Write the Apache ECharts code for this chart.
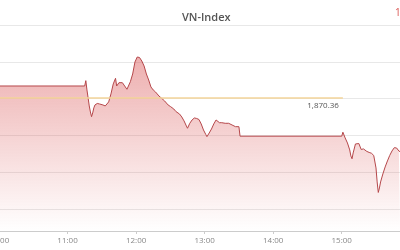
<!DOCTYPE html>
<html>
<head>
<meta charset="utf-8">
<script src="https://cdn.jsdelivr.net/npm/echarts@6/dist/echarts.min.js"></script>
<style>html,body{margin:0;padding:0;background:#fff;}#c{width:400px;height:250px;}</style>
</head>
<body>
<div id="c"></div>
<script>
var titleText = 'VN-Index';
var lastPriceText = '1,855.63';
var refValue = 1870.36;
var refStart = '10:00';
var refEnd = '15:01';
var axisStart = '10:00';
var axisEnd = '15:51';
var yMin = 1834.1;
var yMax = 1890;

var times = [
 '10:00','11:15','11:16','11:17','11:18','11:19','11:20','11:21','11:22','11:23','11:24','11:26','11:28','11:29','11:31','11:33','11:34','11:36','11:38','11:40','11:42','11:43','11:45','11:48','11:50','11:52','11:53','11:55','11:57','11:59',
 '12:01','12:02','12:03','12:04','12:05','12:07','12:09','12:11','12:13','12:15','12:17','12:20','12:22','12:25','12:28','12:30','12:33','12:35','12:38','12:40','12:42','12:44','12:45','12:47','12:49','12:51','12:53','12:55','12:57','12:59',
 '13:01','13:02','13:04','13:06','13:08','13:10','13:11','13:13','13:15','13:18','13:21','13:24','13:27','13:30','13:31',
 '15:00','15:01','15:03','15:05','15:07','15:08','15:09','15:10','15:12','15:13','15:15','15:17','15:19','15:20','15:22','15:24','15:26','15:28','15:29','15:30','15:31','15:32','15:33','15:34','15:36','15:38','15:40','15:42','15:44','15:46','15:48','15:50','15:51'
];
var values = [
 1873.45,1873.45,1874.9,1872.37,1870.20,1868.03,1866.40,1865.12,1866.13,1867.49,1868.30,1868.71,1868.57,1868.11,1868.30,1868.03,1867.90,1869.13,1871.30,1874.00,1875.54,1873.45,1874.35,1874.35,1873.45,1872.56,1872.60,1874.62,1876.71,1879.96,
 1881.32,1881.59,1881.18,1880.64,1880.23,1878.88,1876.71,1875.08,1873.18,1872.37,1871.82,1870.74,1870.20,1869.38,1868.30,1867.89,1867.21,1866.48,1865.85,1865.04,1863.96,1862.60,1861.98,1863.33,1864.23,1864.77,1864.64,1864.36,1863.14,1861.51,
 1860.29,1859.70,1860.70,1861.78,1863.14,1864.23,1864.42,1863.49,1863.49,1863.33,1863.33,1862.87,1862.41,1862.41,1859.83,
 1859.83,1860.91,1859.35,1857.99,1856.10,1854.47,1853.70,1855.28,1857.72,1858.13,1857.83,1856.23,1856.37,1856.50,1855.69,1855.42,1855.20,1854.60,1854.47,1851.21,1847.41,1844.56,1845.78,1847.41,1849.58,1851.48,1853.11,1854.60,1855.82,1856.71,1856.63,1855.82,1855.63
];

function ts(t){ return new Date('2024-01-02T' + t + ':00').getTime(); }
var seriesData = times.map(function(t, i){ return [ts(t), values[i]]; });

var chart = echarts.init(document.getElementById('c'), null, {renderer:'canvas'});
chart.setOption({
  animation: false,
  title: [
    {text: titleText, left: 177, top: 7, textStyle:{fontSize: 11, fontWeight: 600, color:'#555', fontFamily:'Open Sans'}}
  ],
  graphic: [
    {type:'text', left: 395, top: 8, style:{text: lastPriceText, fontSize: 10, fill:'#d9534f', fontFamily:'Open Sans'}}
  ],
  grid: {left: -1, right: 0, top: 25, bottom: 19, containLabel: false, outerBoundsMode: 'none'},
  xAxis: {
    type: 'time',
    min: ts(axisStart), max: ts(axisEnd),
    minInterval: 3600000, maxInterval: 3600000,
    axisLine: {lineStyle:{color:'#ccc'}},
    axisTick: {show: true, length: 3, lineStyle:{color:'#ccc'}},
    axisLabel: {color:'#888', fontSize: 8, fontFamily:'Open Sans', margin: 6,
      formatter: function(v){ var d=new Date(v); var h=d.getHours(), m=d.getMinutes(); return (h<10?'0':'')+h+':'+(m<10?'0':'')+m; }},
    splitLine: {show: false}
  },
  yAxis: {
    type: 'value', min: yMin, max: yMax,
    axisLabel: {show: false}, axisLine:{show:false}, axisTick:{show:false},
    splitLine: {lineStyle:{color:'#e8e8e8'}}
  },
  series: [{
    type: 'line',
    data: seriesData,
    showSymbol: false,
    lineStyle: {color:'#b5474a', width: 1},
    areaStyle: {color: new echarts.graphic.LinearGradient(0,0,0,1,[
      {offset:0, color:'rgba(214,70,70,0.62)'},
      {offset:1, color:'rgba(214,70,70,0.0)'}
    ])},
    markLine: {
      silent: true, symbol: 'none',
      lineStyle: {color:'#f3d59a', type:'solid', width: 1.5},
      label: {position:'insideEndBottom', distance: 4, formatter: function(){ return refValue.toLocaleString('en-US',{minimumFractionDigits:2}); }, color:'#555', fontSize: 8, fontFamily:'Open Sans'},
      data: [[{coord:[ts(refStart), refValue]},{coord:[ts(refEnd), refValue]}]]
    }
  }]
});
</script>
</body>
</html>
